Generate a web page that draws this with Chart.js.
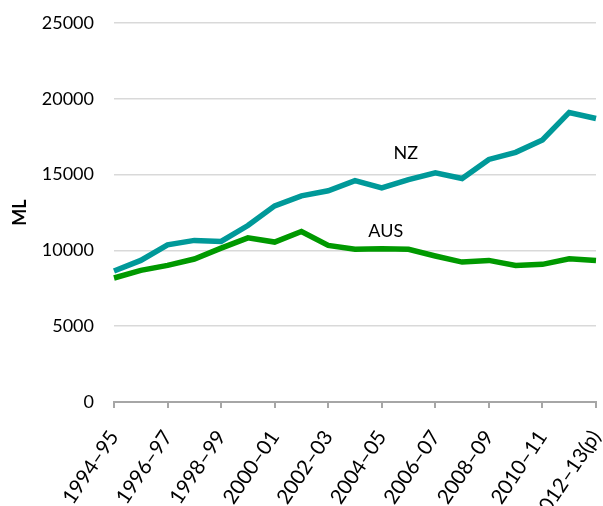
<!DOCTYPE html>
<html>
<head>
<meta charset="utf-8">
<script src="https://cdn.jsdelivr.net/npm/chart.js@4"></script>
<style>
  html, body { margin: 0; padding: 0; background: #fff; }
  #wrap { width: 603px; height: 506px; position: relative; }
</style>
</head>
<body>
<div id="wrap"><canvas id="c" width="603" height="506"></canvas></div>
<script>
const categories = ["1994–95","1995–96","1996–97","1997–98","1998–99","1999–00","2000–01","2001–02","2002–03","2003–04","2004–05","2005–06","2006–07","2007–08","2008–09","2009–10","2010–11","2011–12","2012–13(p)"];
const nzValues  = [8640, 9340, 10370, 10660, 10590, 11640, 12940, 13600, 13930, 14600, 14120, 14670, 15110, 14740, 16000, 16470, 17280, 19100, 18700];
const ausValues = [8180, 8680, 9010, 9430, 10150, 10830, 10550, 11250, 10330, 10070, 10110, 10070, 9630, 9230, 9340, 9010, 9080, 9450, 9340];
const seriesNames = ["NZ", "AUS"];
const yTicks = [0, 5000, 10000, 15000, 20000, 25000];

const FONT = "Lato, 'Open Sans', sans-serif";

const annotate = {
  id: 'annotate',
  afterDatasetsDraw(chart) {
    const {ctx, scales: {x, y}} = chart;
    const items = [
      {text: seriesNames[0], xi: 10.9, yv: 16400},
      {text: seriesNames[1], xi: 10.15, yv: 11250}
    ];
    ctx.save();
    ctx.font = "18px " + FONT;
    ctx.fillStyle = "#000";
    ctx.textAlign = "center";
    ctx.textBaseline = "middle";
    items.forEach(it => ctx.fillText(it.text, x.getPixelForValue(it.xi), y.getPixelForValue(it.yv)));
    ctx.restore();
  }
};

new Chart(document.getElementById('c'), {
  type: 'line',
  data: {
    labels: categories,
    datasets: [
      {label: seriesNames[0], data: nzValues, borderColor: '#009999', borderWidth: 5.5, pointRadius: 0, tension: 0, fill: false},
      {label: seriesNames[1], data: ausValues, borderColor: '#009900', borderWidth: 5.5, pointRadius: 0, tension: 0, fill: false}
    ]
  },
  options: {
    responsive: false,
    animation: false,
    devicePixelRatio: 1,
    layout: {padding: {top: 23, right: 7, left: 0, bottom: 0}},
    plugins: {legend: {display: false}, tooltip: {enabled: false}},
    scales: {
      x: {
        offset: false,
        grid: {drawOnChartArea: false, drawTicks: true, tickLength: 6, color: '#a6a6a6', lineWidth: 2},
        border: {display: true, color: '#a6a6a6', width: 2},
        ticks: {
          autoSkip: false, minRotation: 56, maxRotation: 56, padding: 18,
          color: '#000', font: {family: FONT, size: 20.5},
          callback: function(v, i) { return i % 2 === 0 ? categories[i] : null; }
        },
        afterFit(s) { s.height = 104; s.paddingLeft = 0; s.paddingRight = 0; }
      },
      y: {
        min: 0, max: 25000,
        afterBuildTicks(s) { s.ticks = yTicks.map(v => ({value: v})); },
        grid: {drawTicks: false, color: '#d9d9d9', lineWidth: 1.5},
        border: {display: false},
        ticks: {padding: 20, color: '#000', font: {family: FONT, size: 18}, callback: v => String(v)},
        title: {display: true, text: 'ML', color: '#000', font: {family: FONT, size: 18, weight: 'bold'}, padding: {top: 9, bottom: 0}},
        afterFit(s) { s.width = 114; s.paddingTop = 0; s.paddingBottom = 0; }
      }
    }
  },
  plugins: [annotate]
});
</script>
</body>
</html>
